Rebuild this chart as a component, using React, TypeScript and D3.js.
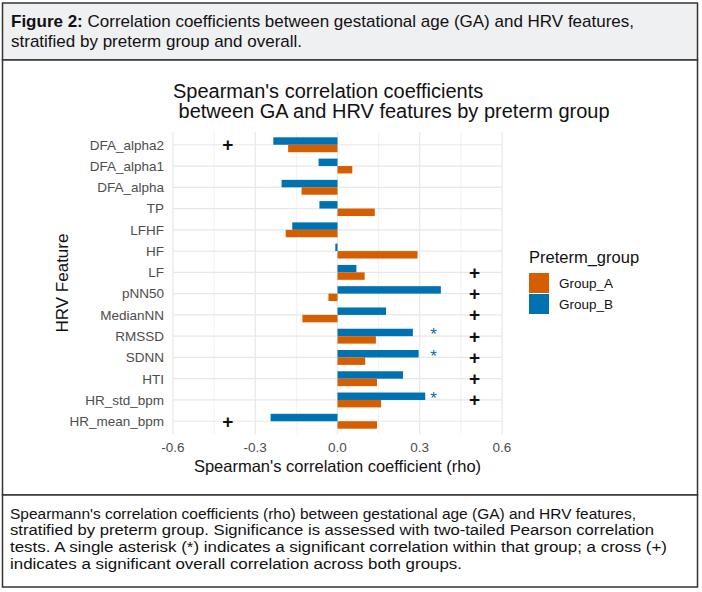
import React from "react";
import * as d3 from "d3";

// HRV features, listed top to bottom as drawn on the y axis
const features = [
  "DFA_alpha2", "DFA_alpha1", "DFA_alpha", "TP", "LFHF", "HF", "LF",
  "pNN50", "MedianNN", "RMSSD", "SDNN", "HTI", "HR_std_bpm", "HR_mean_bpm",
];

// Spearman's rho per feature, one array per preterm group
const rhoGroupA = [-0.18, 0.054, -0.131, 0.136, -0.189, 0.292, 0.099, -0.033, -0.128, 0.14, 0.101, 0.144, 0.159, 0.144];
const rhoGroupB = [-0.234, -0.069, -0.204, -0.066, -0.165, -0.008, 0.069, 0.377, 0.177, 0.275, 0.296, 0.239, 0.32, -0.244];

// within-group significance (Group_B) and overall significance markers
const sigGroupB = ["RMSSD", "SDNN", "HR_std_bpm"];
const overallSig = ["DFA_alpha2", "LF", "pNN50", "MedianNN", "RMSSD", "SDNN", "HTI", "HR_std_bpm", "HR_mean_bpm"];
const overallSigX = [-0.4, 0.5, 0.5, 0.5, 0.5, 0.5, 0.5, 0.5, -0.4];
const sigGroupX = 0.35;

const groups = ["Group_A", "Group_B"];
const groupColors = ["#D55E00", "#0072B2"];
const xTicks = [-0.6, -0.3, 0, 0.3, 0.6];
const xMinorTicks = [-0.45, -0.15, 0.15, 0.45];

const headerLines = [
  " Correlation coefficients between gestational age (GA) and HRV features,",
  "stratified by preterm group and overall.",
];
const captionLines = [
  "Spearmann's correlation coefficients (rho) between gestational age (GA) and HRV features,",
  "stratified by preterm group. Significance is assessed with two-tailed Pearson correlation",
  "tests. A single asterisk (*) indicates a significant correlation within that group; a cross (+)",
  "indicates a significant overall correlation across both groups.",
];
// set widths of the caption lines so they wrap the box like the typeset figure text
const captionWidths = [626, 644, 657, 452];

const FONT = "'Liberation Sans', Arial, Helvetica, sans-serif";

export default function App() {
  const W = 702;
  const H = 592;
  const panel = { left: 173, right: 502, top: 132, bottom: 434 };

  const x = d3.scaleLinear().domain([-0.6, 0.6]).range([panel.left, panel.right]);
  const y = d3.scalePoint<string>().domain(features).range([panel.top, panel.bottom]).padding(0.6);
  const step = y.step();
  // dodge: Group_B above the category line, Group_A below
  const sub = d3.scaleBand<string>().domain(["Group_B", "Group_A"]).range([-step * 0.35, step * 0.35]);

  const rows = features.map((f, i) => ({ f, a: rhoGroupA[i], b: rhoGroupB[i] }));
  const grid = "#e8e8e8";
  const tickCol = "#4d4d4d";

  return (
    <svg width={W} height={H} style={{ position: "absolute", left: 0, top: 0, fontFamily: FONT }}>
      <rect x={0} y={0} width={W} height={H} fill="#ffffff" />
      {/* figure header */}
      <rect x={2.5} y={3} width={695} height={57} fill="#eff0f2" stroke="#333" strokeWidth={1.5} />
      <text x={11} y={27} fontSize={17} fill="#111" style={{ whiteSpace: "pre" }}>
        <tspan fontWeight="bold">Figure 2:</tspan>
        <tspan>{headerLines[0]}</tspan>
      </text>
      <text x={11} y={47} fontSize={17} fill="#111">{headerLines[1]}</text>
      {/* chart frame */}
      <rect x={2.5} y={60} width={695} height={435} fill="#fff" stroke="#333" strokeWidth={1.5} />
      {/* caption frame */}
      <rect x={2.5} y={495} width={695} height={92} fill="#fff" stroke="#333" strokeWidth={1.5} />
      {captionLines.map((t, i) => (
        <text key={i} x={10} y={518.5 + i * 16.7} fontSize={15.5} fill="#111"
          textLength={captionWidths[i]} lengthAdjust="spacingAndGlyphs">{t}</text>
      ))}

      {/* title */}
      <text x={panel.left} y={98} fontSize={20} fill="#111">Spearman's correlation coefficients</text>
      <text x={panel.left} y={118} fontSize={20} fill="#111" style={{ whiteSpace: "pre" }}>{" between GA and HRV features by preterm group"}</text>

      {/* grid */}
      {xMinorTicks.map((t) => (
        <line key={"m" + t} x1={x(t)} x2={x(t)} y1={panel.top} y2={panel.bottom} stroke={grid} strokeWidth={0.6} />
      ))}
      {xTicks.map((t) => (
        <line key={"g" + t} x1={x(t)} x2={x(t)} y1={panel.top} y2={panel.bottom} stroke={grid} strokeWidth={1.2} />
      ))}
      {features.map((f) => (
        <line key={"h" + f} x1={panel.left} x2={panel.right} y1={y(f)} y2={y(f)} stroke={grid} strokeWidth={1.2} />
      ))}

      {/* bars */}
      {rows.map((r) => (
        <g key={r.f}>
          <rect x={Math.min(x(0), x(r.b))} width={Math.abs(x(r.b) - x(0))} y={y(r.f)! + sub("Group_B")!} height={sub.bandwidth()} fill={groupColors[1]} />
          <rect x={Math.min(x(0), x(r.a))} width={Math.abs(x(r.a) - x(0))} y={y(r.f)! + sub("Group_A")!} height={sub.bandwidth()} fill={groupColors[0]} />
        </g>
      ))}

      {/* significance markers */}
      {sigGroupB.map((f) => (
        <text key={"s" + f} x={x(sigGroupX)} y={y(f)! + sub("Group_B")! + sub.bandwidth() / 2 + 8} fontSize={17} fill={groupColors[1]} textAnchor="middle">*</text>
      ))}
      {overallSig.map((f, i) => (
        <text key={"o" + f} x={x(overallSigX[i])} y={y(f)! + 6.5} fontSize={19} fontWeight="bold" fill="#111" textAnchor="middle">+</text>
      ))}

      {/* y axis labels */}
      {features.map((f) => (
        <text key={"yl" + f} x={164} y={y(f)! + 4.8} fontSize={13.5} fill={tickCol} textAnchor="end">{f}</text>
      ))}
      {/* x axis labels */}
      {xTicks.map((t) => (
        <text key={"xl" + t} x={x(t)} y={451.5} fontSize={13.5} fill={tickCol} textAnchor="middle">{t.toFixed(1)}</text>
      ))}
      <text x={(panel.left + panel.right) / 2} y={472} fontSize={16.5} fill="#111" textAnchor="middle">Spearman's correlation coefficient (rho)</text>
      <text transform={`translate(68,${(panel.top + panel.bottom) / 2}) rotate(-90)`} fontSize={17} fill="#111" textAnchor="middle">HRV Feature</text>

      {/* legend */}
      <text x={529} y={263} fontSize={16.5} fill="#111">Preterm_group</text>
      {groups.map((g, i) => (
        <g key={g}>
          <rect x={529} y={273 + i * 21} width={20} height={20} fill={groupColors[i]} />
          <text x={559} y={288 + i * 21} fontSize={13.5} fill="#111">{g}</text>
        </g>
      ))}
    </svg>
  );
}
